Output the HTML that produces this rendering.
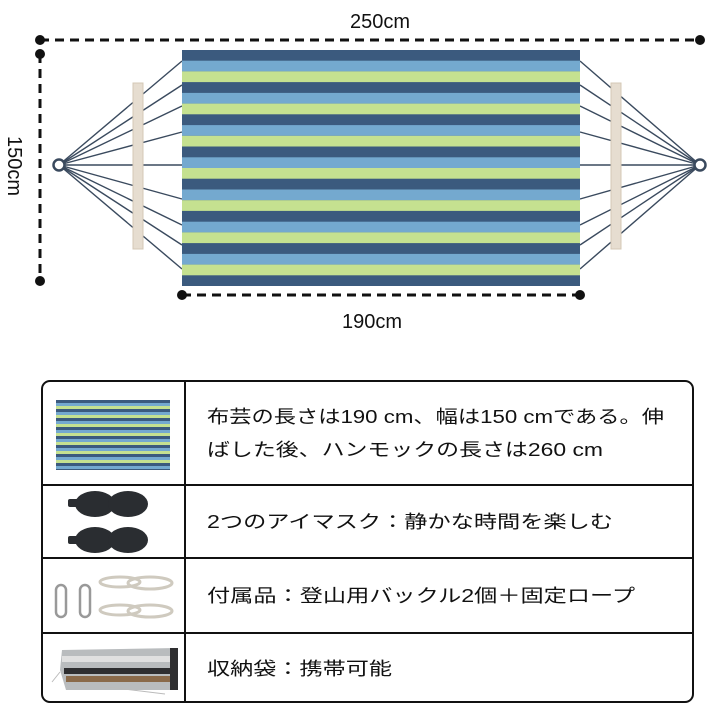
<!DOCTYPE html>
<html><head><meta charset="utf-8"><style>
html,body{margin:0;padding:0;background:#fff;}
svg{display:block}
text{font-family:"Liberation Sans","Noto Sans CJK JP",sans-serif;fill:#111}
</style></head><body>
<svg width="720" height="720" viewBox="0 0 720 720" xmlns="http://www.w3.org/2000/svg">
<!-- dimension lines -->
<g stroke="#111" stroke-width="3" stroke-dasharray="9,6" fill="none">
<line x1="40" y1="40" x2="700" y2="40"/>
<line x1="40" y1="54" x2="40" y2="281"/>
<line x1="182" y1="295" x2="580" y2="295"/>
</g>
<g fill="#111">
<circle cx="40" cy="40" r="5"/><circle cx="700" cy="40" r="5"/>
<circle cx="40" cy="54" r="5"/><circle cx="40" cy="281" r="5"/>
<circle cx="182" cy="295" r="5"/><circle cx="580" cy="295" r="5"/>
</g>
<text x="380" y="28" font-size="20" text-anchor="middle">250cm</text>
<text x="372" y="328" font-size="20" text-anchor="middle">190cm</text>
<text transform="translate(8,166) rotate(90)" font-size="20" text-anchor="middle">150cm</text>
<!-- ropes -->
<g stroke="#3a4a5e" stroke-width="1.4">
<line x1="59" y1="165" x2="182" y2="61"/><line x1="59" y1="165" x2="182" y2="85"/>
<line x1="59" y1="165" x2="182" y2="106"/><line x1="59" y1="165" x2="182" y2="132"/>
<line x1="59" y1="165" x2="182" y2="165"/><line x1="59" y1="165" x2="182" y2="199"/>
<line x1="59" y1="165" x2="182" y2="225"/><line x1="59" y1="165" x2="182" y2="245"/>
<line x1="59" y1="165" x2="182" y2="269"/>
<line x1="700" y1="165" x2="580" y2="61"/><line x1="700" y1="165" x2="580" y2="85"/>
<line x1="700" y1="165" x2="580" y2="106"/><line x1="700" y1="165" x2="580" y2="132"/>
<line x1="700" y1="165" x2="580" y2="165"/><line x1="700" y1="165" x2="580" y2="199"/>
<line x1="700" y1="165" x2="580" y2="225"/><line x1="700" y1="165" x2="580" y2="245"/>
<line x1="700" y1="165" x2="580" y2="269"/>
</g>
<circle cx="59" cy="165" r="5.5" fill="#fff" stroke="#3a4a5e" stroke-width="2.5"/>
<circle cx="700" cy="165" r="5.5" fill="#fff" stroke="#3a4a5e" stroke-width="2.5"/>
<rect x="133" y="83" width="10" height="166" fill="#e6ddd0" stroke="#d4c8b6" stroke-width="1"/>
<rect x="611" y="83" width="10" height="166" fill="#e6ddd0" stroke="#d4c8b6" stroke-width="1"/>
<!-- hammock -->
<g id="hm">
<rect x="182" y="50" width="398" height="236" fill="#3b5a7e"/>
</g>
<g>
<rect x="182" y="60.7" width="398" height="10.7" fill="#74a9cf"/><rect x="182" y="71.4" width="398" height="10.7" fill="#c5e190"/>
<rect x="182" y="92.9" width="398" height="10.7" fill="#74a9cf"/><rect x="182" y="103.6" width="398" height="10.7" fill="#c5e190"/>
<rect x="182" y="125.1" width="398" height="10.7" fill="#74a9cf"/><rect x="182" y="135.8" width="398" height="10.7" fill="#c5e190"/>
<rect x="182" y="157.3" width="398" height="10.7" fill="#74a9cf"/><rect x="182" y="168" width="398" height="10.7" fill="#c5e190"/>
<rect x="182" y="189.5" width="398" height="10.7" fill="#74a9cf"/><rect x="182" y="200.2" width="398" height="10.7" fill="#c5e190"/>
<rect x="182" y="221.7" width="398" height="10.7" fill="#74a9cf"/><rect x="182" y="232.4" width="398" height="10.7" fill="#c5e190"/>
<rect x="182" y="253.9" width="398" height="10.7" fill="#74a9cf"/><rect x="182" y="264.6" width="398" height="10.7" fill="#c5e190"/>
</g>
<!-- table -->
<rect x="42" y="381" width="651" height="321" rx="8" fill="none" stroke="#111" stroke-width="2"/>
<g stroke="#111" stroke-width="2">
<line x1="185" y1="381" x2="185" y2="702"/>
<line x1="42" y1="485" x2="693" y2="485"/>
<line x1="42" y1="558" x2="693" y2="558"/>
<line x1="42" y1="633" x2="693" y2="633"/>
</g>
<!-- mini hammock -->
<g>
<rect x="56" y="400" width="114" height="70" fill="#3b5a7e"/>
<rect x="56" y="403" width="114" height="3" fill="#74a9cf"/><rect x="56" y="406" width="114" height="3" fill="#c5e190"/>
<rect x="56" y="412" width="114" height="3" fill="#74a9cf"/><rect x="56" y="415" width="114" height="3" fill="#c5e190"/>
<rect x="56" y="421" width="114" height="3" fill="#74a9cf"/><rect x="56" y="424" width="114" height="3" fill="#c5e190"/>
<rect x="56" y="430" width="114" height="3" fill="#74a9cf"/><rect x="56" y="433" width="114" height="3" fill="#c5e190"/>
<rect x="56" y="439" width="114" height="3" fill="#74a9cf"/><rect x="56" y="442" width="114" height="3" fill="#c5e190"/>
<rect x="56" y="448" width="114" height="3" fill="#74a9cf"/><rect x="56" y="451" width="114" height="3" fill="#c5e190"/>
<rect x="56" y="457" width="114" height="3" fill="#74a9cf"/><rect x="56" y="460" width="114" height="3" fill="#c5e190"/>
<rect x="56" y="466" width="114" height="3" fill="#74a9cf"/>
</g>
<!-- eye masks -->
<g fill="#2a2d31">
<rect x="68" y="499" width="12" height="8" rx="2"/>
<ellipse cx="95" cy="504" rx="20" ry="13"/><ellipse cx="128" cy="504" rx="20" ry="13"/>
<rect x="68" y="536" width="12" height="8" rx="2"/>
<ellipse cx="95" cy="540" rx="20" ry="13"/><ellipse cx="128" cy="540" rx="20" ry="13"/>
</g>
<!-- carabiners & rope -->
<g fill="none" stroke="#999" stroke-width="2.5">
<rect x="56" y="585" width="10" height="32" rx="5"/>
<rect x="80" y="585" width="10" height="32" rx="5"/>
</g>
<g fill="none" stroke="#cfcabf" stroke-width="3">
<ellipse cx="120" cy="582" rx="20" ry="5"/><ellipse cx="150" cy="583" rx="22" ry="6"/>
<ellipse cx="120" cy="610" rx="20" ry="5"/><ellipse cx="150" cy="611" rx="22" ry="6"/>
</g>
<!-- bag -->
<g>
<polygon points="62,650 176,648 176,690 66,690 60,670" fill="#b9bcbe"/>
<rect x="62" y="656" width="114" height="6" fill="#e0e0e0"/>
<rect x="64" y="668" width="112" height="6" fill="#2e2e30"/>
<rect x="66" y="676" width="110" height="6" fill="#8a6a4a"/>
<rect x="170" y="648" width="8" height="42" fill="#2e2e30"/>
<path d="M60 672 L52 682 M100 686 L165 694" stroke="#bbb" fill="none"/>
</g>
<!-- texts -->
<text x="207" y="423" font-size="18" textLength="457" lengthAdjust="spacingAndGlyphs">布芸の長さは190 cm、幅は150 cmである。伸</text>
<text x="207" y="456" font-size="18" textLength="396" lengthAdjust="spacingAndGlyphs">ばした後、ハンモックの長さは260 cm</text>
<text x="207" y="528" font-size="18" textLength="406" lengthAdjust="spacingAndGlyphs">2つのアイマスク：静かな時間を楽しむ</text>
<text x="207" y="602" font-size="18" textLength="428" lengthAdjust="spacingAndGlyphs">付属品：登山用バックル2個＋固定ロープ</text>
<text x="207" y="675" font-size="18" textLength="185" lengthAdjust="spacingAndGlyphs">収納袋：携帯可能</text>
</svg>
</body></html>
